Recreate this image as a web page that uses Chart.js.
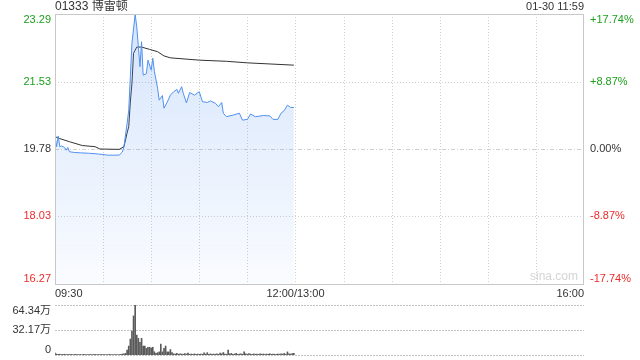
<!DOCTYPE html>
<html>
<head>
<meta charset="utf-8">
<script src="https://cdn.jsdelivr.net/npm/chart.js@4.4.1/dist/chart.umd.min.js"></script>
<style>
  body { margin: 0; background: #fff; }
  #wrap { position: relative; width: 640px; height: 360px; }
  canvas { position: absolute; left: 0; }
</style>
</head>
<body>
<div id="wrap">
  <canvas id="main" width="640" height="300" style="top:0"></canvas>
  <canvas id="vol" width="640" height="60" style="top:300px"></canvas>
</div>
<script>
// minutes since 09:30 (trading minutes, 12:00/13:00 = 150, 16:00 = 330)
const priceMinutes = [0, 1, 2, 3, 4, 6, 7, 8, 9, 12, 16, 21, 27, 33, 40, 42, 43, 45, 46, 47, 48, 50, 51, 53, 54, 55, 57, 58, 60, 61, 62, 64, 65, 67, 68, 70, 72, 74, 76, 77, 79, 80, 82, 84, 87, 90, 92, 95, 97, 100, 102, 104, 105, 107, 111, 115, 117, 120, 122, 125, 130, 134, 136, 139, 141, 143, 145, 147, 149];
const prices = [20.12, 19.84, 20.12, 19.84, 19.86, 19.82, 19.75, 19.82, 19.71, 19.69, 19.68, 19.67, 19.65, 19.62, 19.62, 19.70, 19.84, 20.45, 20.79, 21.66, 22.53, 23.28, 22.96, 21.92, 22.57, 21.70, 21.74, 22.09, 21.83, 22.14, 21.80, 21.36, 21.05, 21.17, 20.84, 21.00, 21.18, 21.27, 21.33, 21.23, 21.40, 21.23, 20.98, 21.25, 21.18, 21.27, 21.01, 20.99, 21.03, 20.97, 20.88, 20.99, 20.71, 20.62, 20.66, 20.71, 20.53, 20.55, 20.69, 20.62, 20.65, 20.64, 20.55, 20.55, 20.71, 20.78, 20.92, 20.86, 20.86];

const avgMinutes = [0, 3, 9, 17, 25, 28, 40, 43, 45, 46, 47, 48, 49, 51, 54, 59, 64, 68, 72, 90, 107, 120, 149];
const avgPrices = [20.10, 20.05, 19.97, 19.87, 19.84, 19.78, 19.77, 19.84, 20.20, 20.36, 21.00, 21.49, 22.27, 22.43, 22.43, 22.37, 22.31, 22.20, 22.15, 22.09, 22.06, 22.02, 21.96];

// volume per minute, 万股, minutes 0..149
const volumes = [
  2.5, 1.2, 0.8, 1.0, 0.6, 0.8, 1.0, 0.5, 0.7, 0.6,
  0.8, 0.5, 0.6, 0.9, 0.5, 0.7, 0.6, 0.4, 0.8, 0.5,
  0.6, 0.5, 0.7, 0.4, 0.6, 0.9, 0.5, 0.6, 0.4, 0.7,
  0.5, 0.6, 0.4, 0.5, 0.8, 0.5, 0.4, 0.6, 0.5, 0.4,
  0.6, 0.8, 1.2, 1.5, 2.2, 6.4, 11.5, 20.5, 30.7, 50.3,
  64.34, 25.6, 21.4, 16.3, 21.4, 11.5, 11.5, 8.5, 10, 10,
  9, 10, 4.2, 2, 3, 4, 14, 4, 8.5, 11.5,
  4, 4, 7, 3, 1.5, 1.2, 2, 1.0, 1.5, 1.2,
  1.0, 1.8, 1.2, 2.5, 1.0, 1.2, 0.8, 1.5, 1.0, 1.2,
  0.9, 1.3, 1.0, 2.8, 1.2, 3.0, 1.0, 1.5, 0.8, 1.2,
  1.0, 1.4, 0.9, 2.5, 1.5, 3.2, 1.2, 1.0, 6.4, 1.5,
  2.0, 1.0, 1.3, 2.2, 0.9, 1.2, 1.6, 1.0, 4.0, 1.5,
  1.0, 1.8, 1.2, 0.8, 1.4, 1.0, 1.2, 0.9, 1.5, 1.0,
  1.3, 0.8, 1.2, 1.0, 1.6, 0.9, 1.2, 1.0, 0.8, 1.3,
  1.0, 1.5, 1.2, 2.0, 1.0, 4.0, 1.5, 1.2, 1.8, 2.0
];

const priceTicks = [16.27, 18.03, 19.78, 21.53, 23.29];
const priceLabels = ['16.27', '18.03', '19.78', '21.53', '23.29'];
const pctLabels = ['-17.74%', '-8.87%', '0.00%', '+8.87%', '+17.74%'];
const volTicks = [0, 32.17, 64.34];
const volLabels = ['0', '32.17万', '64.34万'];
const timeGrid = [0, 30, 60, 90, 120, 150, 180, 210, 240, 270, 300, 330];
const timeLabels = [[0, '09:30'], [150, '12:00/13:00'], [330, '16:00']];
const title = '01333 博雷顿';
const stamp = '01-30 11:59';

const FONT = '"Liberation Sans", Arial, "Noto Sans CJK SC", sans-serif';
const GREEN = '#1ea01e';
const RED = '#ee2a2a';
const labelColors = [RED, RED, '#333', GREEN, GREEN];

function hLine(ctx, a, py, dash) {
  ctx.setLineDash(dash);
  ctx.beginPath();
  ctx.moveTo(a.left, py);
  ctx.lineTo(a.right, py);
  ctx.stroke();
}

function edgeBaseline(i, n) {
  if (i === 0) return 'bottom';
  if (i === n - 1) return 'top';
  return 'middle';
}

const mainDeco = {
  id: 'mainDeco',
  beforeDatasetsDraw(chart) {
    const { ctx, chartArea: a, scales: { x, y } } = chart;
    ctx.save();
    ctx.lineWidth = 1;
    ctx.strokeStyle = '#cfcfcf';
    priceTicks.forEach((v, i) => {
      if (i === 0 || i === priceTicks.length - 1) return;
      const py = Math.round(y.getPixelForValue(v)) + 0.5;
      hLine(ctx, a, py, i === 2 ? [4, 2, 1, 2] : [1, 2]);
    });
    ctx.setLineDash([1, 2]);
    timeGrid.forEach(m => {
      if (m === 0 || m === 330) return;
      const px = Math.round(x.getPixelForValue(m)) + 0.5;
      ctx.beginPath();
      ctx.moveTo(px, a.top);
      ctx.lineTo(px, a.bottom);
      ctx.stroke();
    });
    ctx.restore();
  },
  afterDraw(chart) {
    const { ctx, chartArea: a, scales: { x, y } } = chart;
    ctx.save();
    ctx.strokeStyle = '#c8c8c8';
    ctx.lineWidth = 1;
    ctx.setLineDash([]);
    ctx.strokeRect(Math.round(a.left) + 0.5, Math.round(a.top) + 0.5,
      Math.round(a.right - a.left) - 1, Math.round(a.bottom - a.top));

    ctx.font = '11px ' + FONT;
    priceTicks.forEach((v, i) => {
      const py = y.getPixelForValue(v);
      ctx.textBaseline = edgeBaseline(i, priceTicks.length);
      ctx.fillStyle = labelColors[i];
      ctx.textAlign = 'right';
      ctx.fillText(priceLabels[i], a.left - 4, py);
      ctx.textAlign = 'left';
      ctx.fillText(pctLabels[i], a.right + 6, py);
    });

    ctx.fillStyle = '#333';
    ctx.textBaseline = 'middle';
    timeLabels.forEach(([m, t], i) => {
      ctx.textAlign = i === 0 ? 'left' : (i === timeLabels.length - 1 ? 'right' : 'center');
      ctx.fillText(t, x.getPixelForValue(m), a.bottom + 10);
    });
    ctx.textAlign = 'right';
    ctx.fillText(stamp, a.right, 7);

    ctx.font = '12px ' + FONT;
    ctx.textAlign = 'left';
    ctx.fillText(title, a.left, 7);

    ctx.fillStyle = '#d4d4d4';
    ctx.font = '12px ' + FONT;
    ctx.textAlign = 'right';
    ctx.textBaseline = 'bottom';
    ctx.fillText('sina.com', a.right - 6, a.bottom - 1);
    ctx.restore();
  }
};

const volDeco = {
  id: 'volDeco',
  beforeDatasetsDraw(chart) {
    const { ctx, chartArea: a, scales: { y } } = chart;
    ctx.save();
    ctx.lineWidth = 1;
    ctx.strokeStyle = '#c4c4c4';
    volTicks.forEach(v => {
      const py = Math.round(y.getPixelForValue(v)) + 0.5;
      hLine(ctx, a, py, [2, 1]);
    });
    ctx.restore();
  },
  afterDraw(chart) {
    const { ctx, chartArea: a, scales: { y } } = chart;
    ctx.save();
    ctx.font = '11px ' + FONT;
    ctx.fillStyle = '#333';
    ctx.textAlign = 'right';
    volTicks.forEach((v, i) => {
      ctx.textBaseline = edgeBaseline(i, volTicks.length);
      ctx.fillText(volLabels[i], a.left - 4, y.getPixelForValue(v));
    });
    ctx.restore();
  }
};

new Chart(document.getElementById('main'), {
  type: 'line',
  data: {
    datasets: [{
      label: '价格',
      data: priceMinutes.map((m, i) => ({ x: m, y: prices[i] })),
      borderColor: '#5090f0',
      borderWidth: 1,
      pointRadius: 0,
      tension: 0,
      fill: 'start',
      backgroundColor(c) {
        const a = c.chart.chartArea;
        if (!a) return 'rgba(80,144,240,0.12)';
        const g = c.chart.ctx.createLinearGradient(0, a.top, 0, a.bottom);
        g.addColorStop(0, 'rgba(80,144,240,0.24)');
        g.addColorStop(1, 'rgba(80,144,240,0.03)');
        return g;
      }
    }, {
      label: '均价',
      data: avgMinutes.map((m, i) => ({ x: m, y: avgPrices[i] })),
      borderColor: '#333',
      borderWidth: 1,
      pointRadius: 0,
      tension: 0,
      fill: false
    }]
  },
  options: {
    responsive: false,
    animation: false,
    layout: { padding: { left: 55, right: 56, top: 14, bottom: 16 } },
    plugins: { legend: { display: false }, tooltip: { enabled: false } },
    scales: {
      x: { type: 'linear', min: 0, max: 330, display: false },
      y: { min: 16.27, max: 23.29, display: false }
    }
  },
  plugins: [mainDeco]
});

new Chart(document.getElementById('vol'), {
  type: 'bar',
  data: {
    datasets: [{
      label: '成交量',
      data: volumes.map((v, i) => ({ x: i, y: v })),
      backgroundColor: '#5a5a5a',
      barThickness: 1
    }]
  },
  options: {
    responsive: false,
    animation: false,
    layout: { padding: { left: 55, right: 56, top: 5, bottom: 5 } },
    plugins: { legend: { display: false }, tooltip: { enabled: false } },
    scales: {
      x: { type: 'linear', min: 0, max: 330, offset: false, display: false },
      y: { min: 0, max: 64.34, display: false }
    }
  },
  plugins: [volDeco]
});
</script>
</body>
</html>
